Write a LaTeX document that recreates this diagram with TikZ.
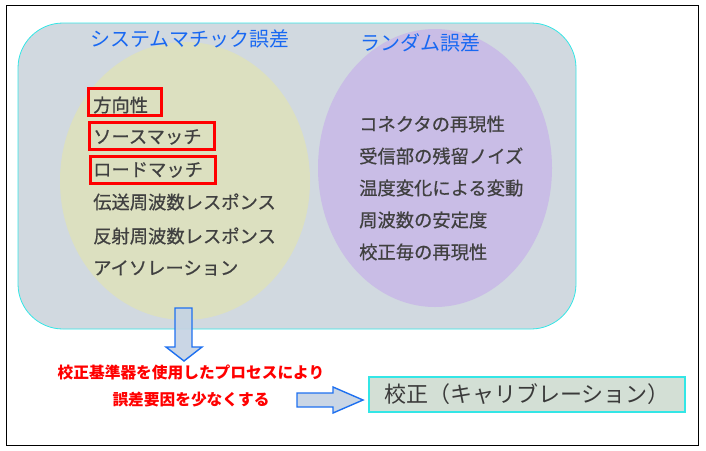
\documentclass[tikz,border=0pt]{standalone}
\usepackage{fontspec}
\newfontfamily\jp{Noto Sans CJK JP}
\newfontfamily\jpitem{Noto Sans CJK JP}[BoldFont={Noto Sans CJK JP}, BoldFeatures={FakeBold=0.6}]
\definecolor{panelgray}{HTML}{D1D9E0}
\definecolor{sysfill}{HTML}{DCE0C0}
\definecolor{rndfill}{HTML}{C9BDE6}
\definecolor{headblue}{HTML}{1868F2}
\definecolor{itemgray}{HTML}{404040}
\definecolor{arrowfill}{HTML}{C5D3E3}
\definecolor{arrowline}{HTML}{1E70F0}
\definecolor{calfill}{HTML}{D3DFD5}
\definecolor{calline}{HTML}{33E6E6}

\tikzset{
  head/.style = {font=\jp\fontsize{20}{20}\selectfont, text=headblue, inner sep=0pt},
  item/.style = {font=\jpitem\bfseries\fontsize{18.3}{18}\selectfont, text=itemgray, anchor=west, inner sep=0pt},
  redbox/.style = {draw=red, line width=2.6pt, inner sep=0pt},
  note/.style = {font=\jp\bfseries\fontsize{15.7}{16}\selectfont, text=red, inner sep=0pt},
  blockarrow/.style = {draw=arrowline, line width=1.4pt, fill=arrowfill, fill opacity=0.92, line join=miter},
}

\begin{document}
\begin{tikzpicture}[x=1pt, y=-1pt]
        \useasboundingbox (0,0) rectangle (706,450);
        \draw[black, line width=1pt] (6,5) rectangle (698,445);

        % panel and the two ellipses
        \draw[calline, line width=0.8pt, fill=panelgray, rounded corners=45pt] (18,23) rectangle (576,329);
        \fill[sysfill] (185,181) ellipse (125pt and 139pt);
        \fill[rndfill] (435,168) ellipse (117pt and 139pt);

        \node[head] (syshead) at (190,39) {システムマチック誤差};
        \node[head] (rndhead) at (420,43) {ランダム誤差};

        % systematic errors
        \node[redbox, minimum width=73pt, minimum height=27pt] (boxdir) at (125,102) {};
        \node[redbox, minimum width=125pt, minimum height=27pt] (boxsrc) at (152,136) {};
        \node[redbox, minimum width=125pt, minimum height=27pt] (boxload) at (153,170) {};
        \node[item] (dir) at (93,105) {方向性};
        \node[item] (src) at (93,137) {ソースマッチ};
        \node[item] (load) at (93,170) {ロードマッチ};
        \node[item] (trans) at (93,202) {伝送周波数レスポンス};
        \node[item] (refl) at (93,236) {反射周波数レスポンス};
        \node[item] (iso) at (93,268) {アイソレーション};

        % random errors
        \node[item] (conn) at (359,124) {コネクタの再現性};
        \node[item] (noise) at (359,156) {受信部の残留ノイズ};
        \node[item] (temp) at (359,188) {温度変化による変動};
        \node[item] (stab) at (359,220) {周波数の安定度};
        \node[item] (rep) at (359,252) {校正毎の再現性};

        % block arrows
        \draw[blockarrow] (175,308) -- (192,308) -- (192,347) -- (202,347) -- (184,361)
                -- (166,347) -- (175,347) -- cycle;
        \draw[blockarrow] (297,393) -- (333,393) -- (333,387) -- (363,400) -- (333,413)
                -- (333,407) -- (297,407) -- cycle;

        \node[note] (note1) at (191,372) {校正基準器を使用したプロセスにより};
        \node[note] (note2) at (191,400) {誤差要因を少なくする};

        \node[draw=calline, line width=1.6pt, fill=calfill, minimum width=316pt, minimum height=35pt,
              font=\jp\fontsize{22}{22}\selectfont, text=itemgray!90!black] (calib) at (527,394.5) {校正（キャリブレーション）};
\end{tikzpicture}
\end{document}
